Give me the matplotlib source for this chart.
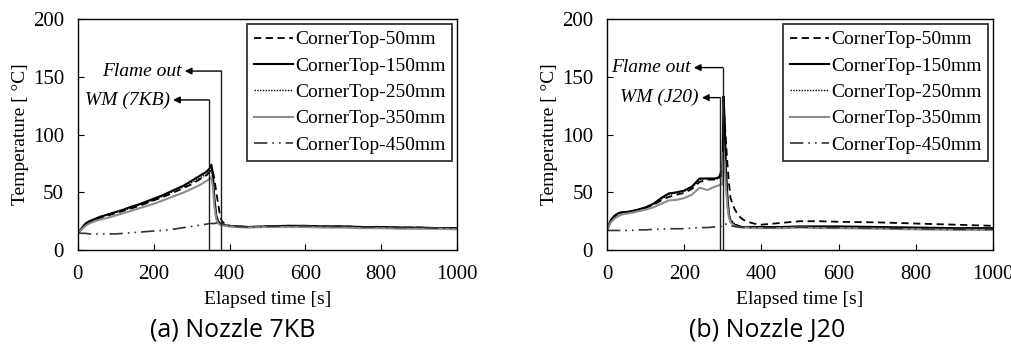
import matplotlib
matplotlib.use("Agg")
import matplotlib.pyplot as plt

# ---- data, panel (a) Nozzle 7KB ----
time_a = [0, 10, 20, 30, 45, 60, 80, 100, 120, 140, 160, 180, 200, 220, 240, 260,
          280, 300, 320, 340, 348, 352, 356, 360, 365, 370, 375, 380, 390, 400, 420,
          450, 500, 550, 600, 650, 700, 750, 800, 850, 900, 950, 1000]
a_50 = [15, 18, 22, 24, 26, 28, 30, 32, 34, 36, 38, 40.5, 43, 45.5, 48, 51, 54, 57, 61,
        65, 68, 70, 68, 62, 50, 40, 30, 25, 22, 21, 20.5, 20, 20.5, 21, 21, 20.5, 20.5,
        20, 20, 19.5, 19.5, 19, 19]
a_150 = [15, 19, 23, 25, 27, 29, 31, 33, 35, 37.5, 39.5, 42, 44.5, 47, 50, 53, 56, 60,
         64, 68, 71, 74, 66, 45, 30, 25, 23, 22, 21.5, 21, 20.5, 20, 20.5, 21, 21, 20.5,
         20.5, 20, 20, 19.5, 19.5, 19, 19]
a_250 = [15, 19, 22, 24.5, 26.5, 28.5, 30.5, 32.5, 34.5, 36.5, 39, 41, 43.5, 46, 49, 52,
         55, 58.5, 62, 66, 68, 70, 62, 42, 28, 24, 22.5, 22, 21, 20.5, 20, 20, 20.5, 20.5,
         20.5, 20, 20, 19.5, 19.5, 19, 19, 19, 18.5]
a_350 = [15, 18, 21, 23, 25, 26.5, 28, 30, 32, 34, 36, 38, 40, 42.5, 45, 47.5, 50, 53, 56,
         60, 62, 63, 55, 38, 27, 23, 22, 21.5, 21, 20.5, 20, 19.5, 20, 20, 20, 19.5, 19.5,
         19, 19, 18.5, 18.5, 18.5, 18]
a_450 = [15, 14.5, 14.5, 14, 14, 14, 14, 14, 14.5, 15, 15.5, 16, 16.5, 17, 17.5, 18.5,
         19.5, 20.5, 21.5, 22.5, 23, 23, 23, 23, 23.5, 24, 23.5, 23, 22, 21, 20.5, 20,
         20.5, 21, 21, 20.5, 20.5, 20, 20, 19.5, 19.5, 19, 19]

# ---- data, panel (b) Nozzle J20 ----
time_b = [0, 5, 10, 20, 30, 40, 50, 60, 80, 100, 120, 140, 160, 180, 200, 220, 240, 260,
          280, 290, 295, 299, 302, 305, 308, 312, 316, 320, 330, 340, 350, 360, 380, 400,
          450, 500, 550, 600, 700, 800, 900, 1000]
b_50 = [17, 21, 25, 29, 31, 32, 32.5, 33, 34.5, 36.5, 39, 43, 46, 48, 49.5, 53, 59, 61,
        61, 62, 64, 65, 100, 110, 95, 75, 58, 45, 36, 30, 27, 25, 23, 22, 23.5, 25, 25,
        24.5, 24, 23, 22, 21]
b_150 = [17, 22, 26, 30, 32, 33, 33, 33.5, 35, 37, 40, 45, 49, 50, 51.5, 55, 62, 62, 62,
         63, 67, 68, 133, 110, 70, 45, 30, 25, 22, 21, 20, 20, 20, 20, 20, 20.5, 20.5,
         20.5, 20, 19.5, 19, 19]
b_250 = [17, 22, 26, 29.5, 31.5, 32.5, 33, 33.5, 35, 37, 40, 44, 48, 49.5, 51, 54, 61, 62,
         61.5, 62, 64, 66, 110, 115, 80, 50, 33, 27, 23, 21, 20, 20, 19.5, 19.5, 19.5, 20,
         19.5, 19.5, 19, 18.5, 18, 18]
b_350 = [17, 21, 24, 27.5, 29.5, 31, 31.5, 32, 33.5, 35, 37, 40, 43, 43.5, 45, 48, 54, 52,
         55, 56, 57, 57, 85, 75, 55, 38, 28, 24, 21, 20, 19.5, 19.5, 19, 19, 19, 19.5, 19,
         19, 18.5, 18, 17.5, 17.5]
b_450 = [17, 17, 17, 17, 17, 17, 17, 17, 17.5, 17.5, 18, 18, 18.5, 18.5, 18.5, 19, 19.5,
         19.5, 20, 20, 20.5, 21, 23, 23, 22.5, 22, 21.5, 21, 20.5, 20, 20, 19.5, 19.5,
         19.5, 19.5, 20, 19.5, 19.5, 19, 18.5, 18, 18]

labels = ["CornerTop-50mm", "CornerTop-150mm", "CornerTop-250mm",
          "CornerTop-350mm", "CornerTop-450mm"]

# markers: (label, x of vertical line, y of arrow, x of arrow tip)
events_a = [("Flame out", 378, 155, 282), ("WM (7KB)", 346, 130, 251)]
events_b = [("Flame out", 300, 158, 225), ("WM (J20)", 293, 132, 246)]

captions = ["(a) Nozzle 7KB", "(b) Nozzle J20"]

SERIF = "Liberation Serif"
styles = [
    dict(color="black", ls=(0, (4, 2.5)), lw=1.3),
    dict(color="black", ls="-", lw=1.5),
    dict(color="black", ls=(0, (1, 1)), lw=1.0),
    dict(color="#8c8c8c", ls="-", lw=1.5),
    dict(color="#333333", ls=(0, (8, 3, 1, 3, 1, 3)), lw=1.2),
]

fig = plt.figure(figsize=(10.12, 3.44), dpi=100)
ax_a = fig.add_axes([0.077, 0.273, 0.3745, 0.6715])
ax_b = fig.add_axes([0.5998, 0.273, 0.3814, 0.6715])


def draw(ax, t, series, events, caption, cx):
    for vals, lab, st in zip(series, labels, styles):
        ax.plot(t, vals, label=lab, **st)
    for txt, xv, y, tip in events:
        ax.plot([xv, xv], [0, y], color="#222222", lw=1.0)
        ax.annotate("", xy=(tip, y), xytext=(xv, y),
                    arrowprops=dict(arrowstyle="-|>", color="black", lw=1.0,
                                    mutation_scale=10, shrinkA=0, shrinkB=0))
        ax.text(tip - 8, y, txt, ha="right", va="center", fontsize=14,
                fontstyle="italic", family=SERIF)
    ax.set_xlim(0, 1000)
    ax.set_ylim(0, 200)
    ax.set_xticks(range(0, 1001, 200))
    ax.set_yticks(range(0, 201, 50))
    ax.tick_params(direction="in", length=4, labelsize=15)
    ax.tick_params(axis="x", pad=11)
    ax.tick_params(axis="y", pad=10)
    for lab in ax.get_xticklabels() + ax.get_yticklabels():
        lab.set_family(SERIF)
    ax.set_xlabel("Elapsed time [s]", family=SERIF, fontsize=14, labelpad=5)
    ax.set_ylabel("Temperature [ °C]", family=SERIF, fontsize=14, labelpad=3)
    for sp in ax.spines.values():
        sp.set_linewidth(1.0)
    leg = ax.legend(loc="upper right", prop=dict(family=SERIF, size=14),
                    frameon=True, fancybox=False, edgecolor="black",
                    borderaxespad=0.25, handlelength=2.0, handletextpad=0.1,
                    labelspacing=0.45, borderpad=0.35)
    leg.get_frame().set_linewidth(1.3)
    fig.text(cx, 0.04, caption, ha="center", va="center", fontsize=18,
             family="Open Sans")


draw(ax_a, time_a, [a_50, a_150, a_250, a_350, a_450], events_a, captions[0], 0.23)
draw(ax_b, time_b, [b_50, b_150, b_250, b_350, b_450], events_b, captions[1], 0.758)

fig.savefig("out.png", dpi=100)
